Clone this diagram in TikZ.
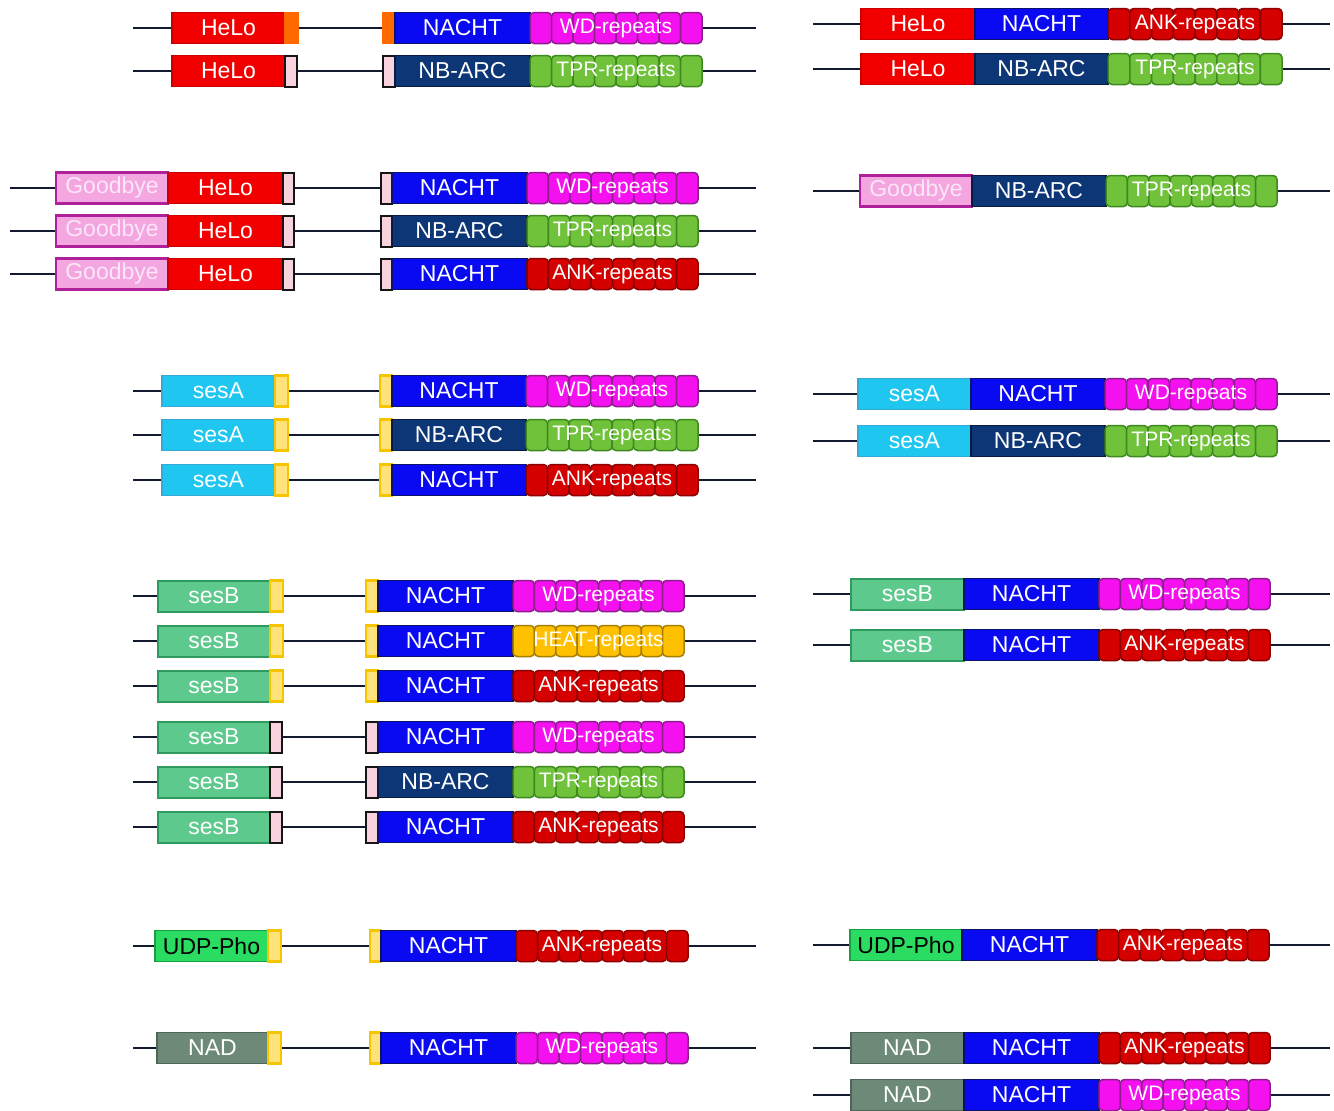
\documentclass[tikz,border=0pt]{standalone}
\usepackage{fontspec}
\setmainfont{Liberation Sans}
\begin{document}
\begin{tikzpicture}[x=1pt,y=-1pt,
  backbone/.style={draw=lineC,line width=2.6pt},
  dom/.style={rectangle,inner sep=0pt,outer sep=0pt,minimum height=31pt,
    line width=1.4pt,text=white,font=\fontsize{23}{23}\selectfont},
  reptext/.style={rectangle,inner sep=0pt,minimum height=31pt,text=white,
    font=\fontsize{21}{21}\selectfont},
  seg/.style={rounded corners=4pt,line width=1.5pt},
  % domain colours
  helo/.style={fill=heloF,draw=heloD},
  nacht/.style={fill=nachtF,draw=nachtD},
  nbarc/.style={fill=nbarcF,draw=nbarcD},
  goodbye/.style={fill=goodF,draw=goodD,line width=2.4pt,text=goodT},
  sesa/.style={fill=sesaF,draw=sesaD},
  sesb/.style={fill=sesbF,draw=sesbD,line width=2pt},
  udp/.style={fill=udpF,draw=udpD,text=black},
  nad/.style={fill=nadF,draw=nadD},
  lko/.style={fill=orgF,draw=orgF},
  lkp/.style={fill=pnkF,draw=pnkD,line width=2pt},
  lky/.style={fill=yelF,draw=yelD,line width=2.4pt},
  % repeat colours
  wd/.style={fill=wdF,draw=wdD},
  tpr/.style={fill=tprF,draw=tprD},
  ank/.style={fill=ankF,draw=ankD},
  heat/.style={fill=heatF,draw=heatD}]

\definecolor{lineC}{HTML}{111A2E}
\definecolor{heloF}{HTML}{F20000}\definecolor{heloD}{HTML}{C80000}
\definecolor{nachtF}{HTML}{0A0AF2}\definecolor{nachtD}{HTML}{0A1466}
\definecolor{nbarcF}{HTML}{0D3676}\definecolor{nbarcD}{HTML}{081A40}
\definecolor{goodF}{HTML}{F3A6E0}\definecolor{goodD}{HTML}{B0209A}\definecolor{goodT}{HTML}{FCE6F7}
\definecolor{sesaF}{HTML}{1EC6F0}\definecolor{sesaD}{HTML}{35A9D6}
\definecolor{sesbF}{HTML}{5DC98D}\definecolor{sesbD}{HTML}{2F9A5E}
\definecolor{udpF}{HTML}{2ADC62}\definecolor{udpD}{HTML}{16A040}
\definecolor{nadF}{HTML}{6D8A78}\definecolor{nadD}{HTML}{4D6657}
\definecolor{orgF}{HTML}{FF6A00}
\definecolor{pnkF}{HTML}{F8D2DC}\definecolor{pnkD}{HTML}{151515}
\definecolor{yelF}{HTML}{FFE27A}\definecolor{yelD}{HTML}{F7C400}
\definecolor{wdF}{HTML}{F510F0}\definecolor{wdD}{HTML}{8E1E8E}
\definecolor{tprF}{HTML}{6FC23A}\definecolor{tprD}{HTML}{3E8A1E}
\definecolor{ankF}{HTML}{D50000}\definecolor{ankD}{HTML}{8E0000}
\definecolor{heatF}{HTML}{FFC000}\definecolor{heatD}{HTML}{A88000}

% backbone of one protein: name, x start, x end, y
\newcommand\backbone[4]{%
  \coordinate (#1-s) at (#2,#4); \coordinate (#1-e) at (#3,#4);
  \draw[backbone] (#1-s) -- (#1-e);}
% single domain box: name, style, x1, x2, y, label
\newcommand\dombox[6]{%
  \pgfmathsetmacro\dw{#4-#3}\pgfmathsetmacro\dx{(#3+#4)/2}%
  \node[dom,#2,minimum width=\dw pt] (#1) at (\dx,#5) {#6};}
% repeat region of eight units: name, style, x1, x2, y, label
\newcommand\repbox[6]{%
  \pgfmathsetmacro\rw{(#4-#3)/8}%
  \foreach \k in {0,...,7}{%
    \draw[seg,#2] ({#3+\k*\rw},{#5-15.5}) rectangle ({#3+(\k+1)*\rw},{#5+15.5});}
  \pgfmathsetmacro\dw{#4-#3}\pgfmathsetmacro\dx{(#3+#4)/2}%
  \node[reptext,minimum width=\dw pt] (#1) at (\dx,#5) {#6};}

\fill[white] (0,0) rectangle (1334,1111);
\useasboundingbox (0,0) rectangle (1334,1111);

% ---- HeLo, left
\backbone{a1}{133}{756}{28}
\dombox{a1h}{helo}{172}{285}{28}{HeLo}
\dombox{a1l}{lko}{285}{298}{28}{}
\dombox{a1m}{lko}{383}{395}{28}{}
\dombox{a1n}{nacht}{395}{530}{28}{NACHT}
\repbox{a1r}{wd}{530}{702}{28}{WD-repeats}

\backbone{a2}{133}{756}{71}
\dombox{a2h}{helo}{172}{285}{71}{HeLo}
\dombox{a2l}{lkp}{285}{297}{71}{}
\dombox{a2m}{lkp}{383}{395}{71}{}
\dombox{a2n}{nbarc}{395}{530}{71}{NB-ARC}
\repbox{a2r}{tpr}{530}{702}{71}{TPR-repeats}

% ---- HeLo, right
\backbone{b1}{813}{1330}{24}
\dombox{b1h}{helo}{861}{975}{24}{HeLo}
\dombox{b1n}{nacht}{975}{1108}{24}{NACHT}
\repbox{b1r}{ank}{1108}{1282}{24}{ANK-repeats}

\backbone{b2}{813}{1330}{69}
\dombox{b2h}{helo}{861}{975}{69}{HeLo}
\dombox{b2n}{nbarc}{975}{1108}{69}{NB-ARC}
\repbox{b2r}{tpr}{1108}{1282}{69}{TPR-repeats}

% ---- Goodbye-HeLo, left
\backbone{c1}{10}{756}{188}
\dombox{c1g}{goodbye}{56}{168}{188}{Goodbye}
\dombox{c1h}{helo}{168}{283}{188}{HeLo}
\dombox{c1l}{lkp}{283}{294}{188}{}
\dombox{c1m}{lkp}{381}{392}{188}{}
\dombox{c1n}{nacht}{392}{527}{188}{NACHT}
\repbox{c1r}{wd}{527}{698}{188}{WD-repeats}

\backbone{c2}{10}{756}{231}
\dombox{c2g}{goodbye}{56}{168}{231}{Goodbye}
\dombox{c2h}{helo}{168}{283}{231}{HeLo}
\dombox{c2l}{lkp}{283}{294}{231}{}
\dombox{c2m}{lkp}{381}{392}{231}{}
\dombox{c2n}{nbarc}{392}{527}{231}{NB-ARC}
\repbox{c2r}{tpr}{527}{698}{231}{TPR-repeats}

\backbone{c3}{10}{756}{274}
\dombox{c3g}{goodbye}{56}{168}{274}{Goodbye}
\dombox{c3h}{helo}{168}{283}{274}{HeLo}
\dombox{c3l}{lkp}{283}{294}{274}{}
\dombox{c3m}{lkp}{381}{392}{274}{}
\dombox{c3n}{nacht}{392}{527}{274}{NACHT}
\repbox{c3r}{ank}{527}{698}{274}{ANK-repeats}

% ---- Goodbye, right
\backbone{d1}{813}{1330}{191}
\dombox{d1g}{goodbye}{860}{972}{191}{Goodbye}
\dombox{d1n}{nbarc}{972}{1106}{191}{NB-ARC}
\repbox{d1r}{tpr}{1106}{1277}{191}{TPR-repeats}

% ---- sesA, left
\backbone{e1}{133}{756}{391}
\dombox{e1s}{sesa}{162}{275}{391}{sesA}
\dombox{e1l}{lky}{275}{288}{391}{}
\dombox{e1m}{lky}{380}{392}{391}{}
\dombox{e1n}{nacht}{392}{526}{391}{NACHT}
\repbox{e1r}{wd}{526}{698}{391}{WD-repeats}

\backbone{e2}{133}{756}{435}
\dombox{e2s}{sesa}{162}{275}{435}{sesA}
\dombox{e2l}{lky}{275}{288}{435}{}
\dombox{e2m}{lky}{380}{392}{435}{}
\dombox{e2n}{nbarc}{392}{526}{435}{NB-ARC}
\repbox{e2r}{tpr}{526}{698}{435}{TPR-repeats}

\backbone{e3}{133}{756}{480}
\dombox{e3s}{sesa}{162}{275}{480}{sesA}
\dombox{e3l}{lky}{275}{288}{480}{}
\dombox{e3m}{lky}{380}{392}{480}{}
\dombox{e3n}{nacht}{392}{526}{480}{NACHT}
\repbox{e3r}{ank}{526}{698}{480}{ANK-repeats}

% ---- sesA, right
\backbone{f1}{813}{1330}{394}
\dombox{f1s}{sesa}{858}{971}{394}{sesA}
\dombox{f1n}{nacht}{971}{1105}{394}{NACHT}
\repbox{f1r}{wd}{1105}{1277}{394}{WD-repeats}

\backbone{f2}{813}{1330}{441}
\dombox{f2s}{sesa}{858}{971}{441}{sesA}
\dombox{f2n}{nbarc}{971}{1105}{441}{NB-ARC}
\repbox{f2r}{tpr}{1105}{1277}{441}{TPR-repeats}

% ---- sesB, left
\backbone{g1}{133}{756}{596}
\dombox{g1s}{sesb}{158}{270}{596}{sesB}
\dombox{g1l}{lky}{270}{283}{596}{}
\dombox{g1m}{lky}{366}{378}{596}{}
\dombox{g1n}{nacht}{378}{513}{596}{NACHT}
\repbox{g1r}{wd}{513}{684}{596}{WD-repeats}

\backbone{g2}{133}{756}{641}
\dombox{g2s}{sesb}{158}{270}{641}{sesB}
\dombox{g2l}{lky}{270}{283}{641}{}
\dombox{g2m}{lky}{366}{378}{641}{}
\dombox{g2n}{nacht}{378}{513}{641}{NACHT}
\repbox{g2r}{heat}{513}{684}{641}{HEAT-repeats}

\backbone{g3}{133}{756}{686}
\dombox{g3s}{sesb}{158}{270}{686}{sesB}
\dombox{g3l}{lky}{270}{283}{686}{}
\dombox{g3m}{lky}{366}{378}{686}{}
\dombox{g3n}{nacht}{378}{513}{686}{NACHT}
\repbox{g3r}{ank}{513}{684}{686}{ANK-repeats}

\backbone{g4}{133}{756}{737}
\dombox{g4s}{sesb}{158}{270}{737}{sesB}
\dombox{g4l}{lkp}{270}{282}{737}{}
\dombox{g4m}{lkp}{366}{378}{737}{}
\dombox{g4n}{nacht}{378}{513}{737}{NACHT}
\repbox{g4r}{wd}{513}{684}{737}{WD-repeats}

\backbone{g5}{133}{756}{782}
\dombox{g5s}{sesb}{158}{270}{782}{sesB}
\dombox{g5l}{lkp}{270}{282}{782}{}
\dombox{g5m}{lkp}{366}{378}{782}{}
\dombox{g5n}{nbarc}{378}{513}{782}{NB-ARC}
\repbox{g5r}{tpr}{513}{684}{782}{TPR-repeats}

\backbone{g6}{133}{756}{827}
\dombox{g6s}{sesb}{158}{270}{827}{sesB}
\dombox{g6l}{lkp}{270}{282}{827}{}
\dombox{g6m}{lkp}{366}{378}{827}{}
\dombox{g6n}{nacht}{378}{513}{827}{NACHT}
\repbox{g6r}{ank}{513}{684}{827}{ANK-repeats}

% ---- sesB, right
\backbone{h1}{813}{1330}{594}
\dombox{h1s}{sesb}{851}{964}{594}{sesB}
\dombox{h1n}{nacht}{964}{1099}{594}{NACHT}
\repbox{h1r}{wd}{1099}{1270}{594}{WD-repeats}

\backbone{h2}{813}{1330}{645}
\dombox{h2s}{sesb}{851}{964}{645}{sesB}
\dombox{h2n}{nacht}{964}{1099}{645}{NACHT}
\repbox{h2r}{ank}{1099}{1270}{645}{ANK-repeats}

% ---- UDP-Pho and NAD, left
\backbone{i1}{133}{756}{946}
\dombox{i1u}{udp}{155}{268}{946}{UDP-Pho}
\dombox{i1l}{lky}{268}{281}{946}{}
\dombox{i1m}{lky}{370}{381}{946}{}
\dombox{i1n}{nacht}{381}{516}{946}{NACHT}
\repbox{i1r}{ank}{516}{688}{946}{ANK-repeats}

\backbone{j1}{133}{756}{1048}
\dombox{j1a}{nad}{157}{268}{1048}{NAD}
\dombox{j1l}{lky}{268}{281}{1048}{}
\dombox{j1m}{lky}{370}{381}{1048}{}
\dombox{j1n}{nacht}{381}{516}{1048}{NACHT}
\repbox{j1r}{wd}{516}{688}{1048}{WD-repeats}

% ---- UDP-Pho and NAD, right
\backbone{k1}{813}{1330}{945}
\dombox{k1u}{udp}{850}{962}{945}{UDP-Pho}
\dombox{k1n}{nacht}{962}{1097}{945}{NACHT}
\repbox{k1r}{ank}{1097}{1269}{945}{ANK-repeats}

\backbone{l1}{813}{1330}{1048}
\dombox{l1a}{nad}{851}{964}{1048}{NAD}
\dombox{l1n}{nacht}{964}{1099}{1048}{NACHT}
\repbox{l1r}{ank}{1099}{1270}{1048}{ANK-repeats}

\backbone{l2}{813}{1330}{1095}
\dombox{l2a}{nad}{851}{964}{1095}{NAD}
\dombox{l2n}{nacht}{964}{1099}{1095}{NACHT}
\repbox{l2r}{wd}{1099}{1270}{1095}{WD-repeats}

\end{tikzpicture}
\end{document}
